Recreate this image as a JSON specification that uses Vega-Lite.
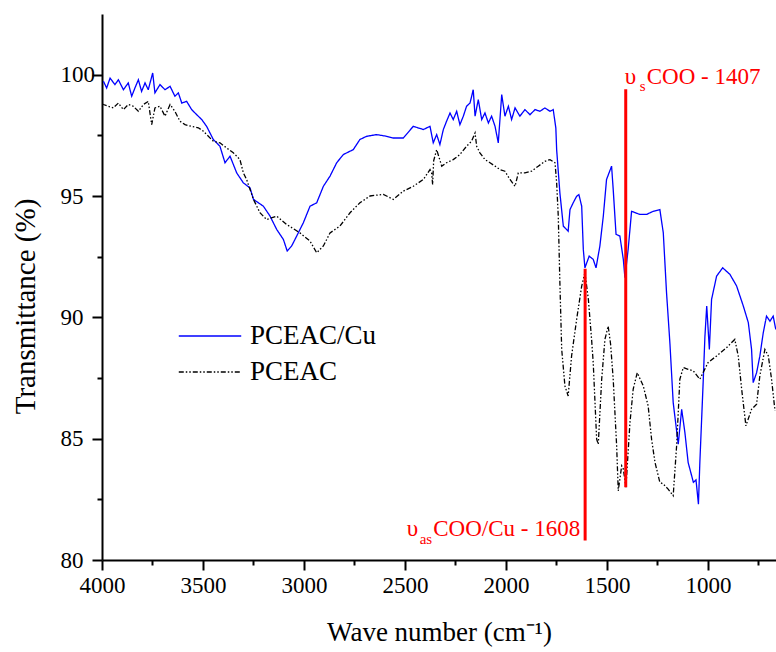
{
  "$schema": "https://vega.github.io/schema/vega-lite/v6.json",
  "width": 674,
  "height": 546,
  "autosize": {"type": "none"},
  "padding": {"left": 102, "top": 14, "right": 0, "bottom": 92},
  "background": "white",
  "config": {"view": {"stroke": null}, "font": "Times New Roman, Liberation Serif, serif"},
  "datasets": {
    "spectra": [
      {"wn": 3993, "t": 99.73, "sample": "PCEAC/Cu"},
      {"wn": 3977, "t": 99.45, "sample": "PCEAC/Cu"},
      {"wn": 3960, "t": 99.86, "sample": "PCEAC/Cu"},
      {"wn": 3936, "t": 99.59, "sample": "PCEAC/Cu"},
      {"wn": 3919, "t": 99.79, "sample": "PCEAC/Cu"},
      {"wn": 3894, "t": 99.38, "sample": "PCEAC/Cu"},
      {"wn": 3870, "t": 99.66, "sample": "PCEAC/Cu"},
      {"wn": 3853, "t": 99.11, "sample": "PCEAC/Cu"},
      {"wn": 3837, "t": 99.45, "sample": "PCEAC/Cu"},
      {"wn": 3820, "t": 99.79, "sample": "PCEAC/Cu"},
      {"wn": 3804, "t": 99.31, "sample": "PCEAC/Cu"},
      {"wn": 3787, "t": 99.66, "sample": "PCEAC/Cu"},
      {"wn": 3771, "t": 99.38, "sample": "PCEAC/Cu"},
      {"wn": 3749, "t": 100.07, "sample": "PCEAC/Cu"},
      {"wn": 3738, "t": 99.25, "sample": "PCEAC/Cu"},
      {"wn": 3713, "t": 99.59, "sample": "PCEAC/Cu"},
      {"wn": 3688, "t": 99.38, "sample": "PCEAC/Cu"},
      {"wn": 3663, "t": 99.52, "sample": "PCEAC/Cu"},
      {"wn": 3639, "t": 99.11, "sample": "PCEAC/Cu"},
      {"wn": 3622, "t": 99.25, "sample": "PCEAC/Cu"},
      {"wn": 3605, "t": 98.83, "sample": "PCEAC/Cu"},
      {"wn": 3581, "t": 98.90, "sample": "PCEAC/Cu"},
      {"wn": 3556, "t": 98.56, "sample": "PCEAC/Cu"},
      {"wn": 3531, "t": 98.35, "sample": "PCEAC/Cu"},
      {"wn": 3506, "t": 98.15, "sample": "PCEAC/Cu"},
      {"wn": 3482, "t": 97.87, "sample": "PCEAC/Cu"},
      {"wn": 3449, "t": 97.33, "sample": "PCEAC/Cu"},
      {"wn": 3416, "t": 97.05, "sample": "PCEAC/Cu"},
      {"wn": 3391, "t": 96.37, "sample": "PCEAC/Cu"},
      {"wn": 3366, "t": 96.64, "sample": "PCEAC/Cu"},
      {"wn": 3333, "t": 95.95, "sample": "PCEAC/Cu"},
      {"wn": 3300, "t": 95.54, "sample": "PCEAC/Cu"},
      {"wn": 3267, "t": 95.33, "sample": "PCEAC/Cu"},
      {"wn": 3250, "t": 94.86, "sample": "PCEAC/Cu"},
      {"wn": 3201, "t": 94.58, "sample": "PCEAC/Cu"},
      {"wn": 3168, "t": 94.17, "sample": "PCEAC/Cu"},
      {"wn": 3135, "t": 93.62, "sample": "PCEAC/Cu"},
      {"wn": 3102, "t": 93.21, "sample": "PCEAC/Cu"},
      {"wn": 3083, "t": 92.73, "sample": "PCEAC/Cu"},
      {"wn": 3061, "t": 92.94, "sample": "PCEAC/Cu"},
      {"wn": 3036, "t": 93.35, "sample": "PCEAC/Cu"},
      {"wn": 3003, "t": 93.90, "sample": "PCEAC/Cu"},
      {"wn": 2970, "t": 94.58, "sample": "PCEAC/Cu"},
      {"wn": 2937, "t": 94.72, "sample": "PCEAC/Cu"},
      {"wn": 2904, "t": 95.40, "sample": "PCEAC/Cu"},
      {"wn": 2871, "t": 95.82, "sample": "PCEAC/Cu"},
      {"wn": 2838, "t": 96.37, "sample": "PCEAC/Cu"},
      {"wn": 2805, "t": 96.71, "sample": "PCEAC/Cu"},
      {"wn": 2756, "t": 96.91, "sample": "PCEAC/Cu"},
      {"wn": 2723, "t": 97.33, "sample": "PCEAC/Cu"},
      {"wn": 2690, "t": 97.46, "sample": "PCEAC/Cu"},
      {"wn": 2640, "t": 97.53, "sample": "PCEAC/Cu"},
      {"wn": 2591, "t": 97.46, "sample": "PCEAC/Cu"},
      {"wn": 2558, "t": 97.39, "sample": "PCEAC/Cu"},
      {"wn": 2508, "t": 97.39, "sample": "PCEAC/Cu"},
      {"wn": 2459, "t": 97.87, "sample": "PCEAC/Cu"},
      {"wn": 2409, "t": 97.74, "sample": "PCEAC/Cu"},
      {"wn": 2376, "t": 97.87, "sample": "PCEAC/Cu"},
      {"wn": 2360, "t": 97.19, "sample": "PCEAC/Cu"},
      {"wn": 2343, "t": 97.53, "sample": "PCEAC/Cu"},
      {"wn": 2327, "t": 97.12, "sample": "PCEAC/Cu"},
      {"wn": 2310, "t": 97.74, "sample": "PCEAC/Cu"},
      {"wn": 2294, "t": 98.08, "sample": "PCEAC/Cu"},
      {"wn": 2277, "t": 98.42, "sample": "PCEAC/Cu"},
      {"wn": 2261, "t": 98.15, "sample": "PCEAC/Cu"},
      {"wn": 2244, "t": 98.49, "sample": "PCEAC/Cu"},
      {"wn": 2228, "t": 97.94, "sample": "PCEAC/Cu"},
      {"wn": 2211, "t": 98.29, "sample": "PCEAC/Cu"},
      {"wn": 2195, "t": 98.70, "sample": "PCEAC/Cu"},
      {"wn": 2178, "t": 98.83, "sample": "PCEAC/Cu"},
      {"wn": 2162, "t": 99.38, "sample": "PCEAC/Cu"},
      {"wn": 2153, "t": 98.29, "sample": "PCEAC/Cu"},
      {"wn": 2137, "t": 98.97, "sample": "PCEAC/Cu"},
      {"wn": 2120, "t": 98.15, "sample": "PCEAC/Cu"},
      {"wn": 2104, "t": 98.42, "sample": "PCEAC/Cu"},
      {"wn": 2087, "t": 98.01, "sample": "PCEAC/Cu"},
      {"wn": 2071, "t": 98.29, "sample": "PCEAC/Cu"},
      {"wn": 2054, "t": 97.87, "sample": "PCEAC/Cu"},
      {"wn": 2038, "t": 97.19, "sample": "PCEAC/Cu"},
      {"wn": 2021, "t": 99.18, "sample": "PCEAC/Cu"},
      {"wn": 2005, "t": 98.29, "sample": "PCEAC/Cu"},
      {"wn": 1988, "t": 98.70, "sample": "PCEAC/Cu"},
      {"wn": 1972, "t": 98.15, "sample": "PCEAC/Cu"},
      {"wn": 1955, "t": 98.63, "sample": "PCEAC/Cu"},
      {"wn": 1931, "t": 98.29, "sample": "PCEAC/Cu"},
      {"wn": 1906, "t": 98.56, "sample": "PCEAC/Cu"},
      {"wn": 1881, "t": 98.35, "sample": "PCEAC/Cu"},
      {"wn": 1856, "t": 98.56, "sample": "PCEAC/Cu"},
      {"wn": 1832, "t": 98.49, "sample": "PCEAC/Cu"},
      {"wn": 1807, "t": 98.63, "sample": "PCEAC/Cu"},
      {"wn": 1782, "t": 98.49, "sample": "PCEAC/Cu"},
      {"wn": 1766, "t": 98.56, "sample": "PCEAC/Cu"},
      {"wn": 1753, "t": 97.80, "sample": "PCEAC/Cu"},
      {"wn": 1749, "t": 96.91, "sample": "PCEAC/Cu"},
      {"wn": 1733, "t": 95.13, "sample": "PCEAC/Cu"},
      {"wn": 1716, "t": 93.76, "sample": "PCEAC/Cu"},
      {"wn": 1700, "t": 93.62, "sample": "PCEAC/Cu"},
      {"wn": 1692, "t": 93.55, "sample": "PCEAC/Cu"},
      {"wn": 1683, "t": 94.44, "sample": "PCEAC/Cu"},
      {"wn": 1667, "t": 94.72, "sample": "PCEAC/Cu"},
      {"wn": 1650, "t": 94.99, "sample": "PCEAC/Cu"},
      {"wn": 1639, "t": 95.06, "sample": "PCEAC/Cu"},
      {"wn": 1625, "t": 94.58, "sample": "PCEAC/Cu"},
      {"wn": 1617, "t": 92.80, "sample": "PCEAC/Cu"},
      {"wn": 1609, "t": 92.04, "sample": "PCEAC/Cu"},
      {"wn": 1588, "t": 92.52, "sample": "PCEAC/Cu"},
      {"wn": 1568, "t": 92.39, "sample": "PCEAC/Cu"},
      {"wn": 1554, "t": 92.04, "sample": "PCEAC/Cu"},
      {"wn": 1535, "t": 92.94, "sample": "PCEAC/Cu"},
      {"wn": 1518, "t": 94.17, "sample": "PCEAC/Cu"},
      {"wn": 1502, "t": 95.68, "sample": "PCEAC/Cu"},
      {"wn": 1477, "t": 96.23, "sample": "PCEAC/Cu"},
      {"wn": 1469, "t": 95.27, "sample": "PCEAC/Cu"},
      {"wn": 1455, "t": 93.42, "sample": "PCEAC/Cu"},
      {"wn": 1436, "t": 93.35, "sample": "PCEAC/Cu"},
      {"wn": 1419, "t": 92.39, "sample": "PCEAC/Cu"},
      {"wn": 1411, "t": 91.63, "sample": "PCEAC/Cu"},
      {"wn": 1395, "t": 92.80, "sample": "PCEAC/Cu"},
      {"wn": 1378, "t": 94.37, "sample": "PCEAC/Cu"},
      {"wn": 1337, "t": 94.24, "sample": "PCEAC/Cu"},
      {"wn": 1304, "t": 94.24, "sample": "PCEAC/Cu"},
      {"wn": 1271, "t": 94.37, "sample": "PCEAC/Cu"},
      {"wn": 1238, "t": 94.44, "sample": "PCEAC/Cu"},
      {"wn": 1221, "t": 93.48, "sample": "PCEAC/Cu"},
      {"wn": 1205, "t": 91.02, "sample": "PCEAC/Cu"},
      {"wn": 1188, "t": 88.90, "sample": "PCEAC/Cu"},
      {"wn": 1172, "t": 86.49, "sample": "PCEAC/Cu"},
      {"wn": 1147, "t": 84.77, "sample": "PCEAC/Cu"},
      {"wn": 1130, "t": 86.21, "sample": "PCEAC/Cu"},
      {"wn": 1114, "t": 85.25, "sample": "PCEAC/Cu"},
      {"wn": 1098, "t": 84.02, "sample": "PCEAC/Cu"},
      {"wn": 1072, "t": 83.20, "sample": "PCEAC/Cu"},
      {"wn": 1059, "t": 83.30, "sample": "PCEAC/Cu"},
      {"wn": 1047, "t": 82.30, "sample": "PCEAC/Cu"},
      {"wn": 1040, "t": 84.02, "sample": "PCEAC/Cu"},
      {"wn": 1023, "t": 87.45, "sample": "PCEAC/Cu"},
      {"wn": 1015, "t": 89.20, "sample": "PCEAC/Cu"},
      {"wn": 1006, "t": 90.47, "sample": "PCEAC/Cu"},
      {"wn": 993, "t": 88.68, "sample": "PCEAC/Cu"},
      {"wn": 982, "t": 90.74, "sample": "PCEAC/Cu"},
      {"wn": 957, "t": 91.70, "sample": "PCEAC/Cu"},
      {"wn": 927, "t": 92.04, "sample": "PCEAC/Cu"},
      {"wn": 891, "t": 91.77, "sample": "PCEAC/Cu"},
      {"wn": 858, "t": 91.29, "sample": "PCEAC/Cu"},
      {"wn": 825, "t": 90.47, "sample": "PCEAC/Cu"},
      {"wn": 800, "t": 89.78, "sample": "PCEAC/Cu"},
      {"wn": 784, "t": 88.68, "sample": "PCEAC/Cu"},
      {"wn": 776, "t": 87.31, "sample": "PCEAC/Cu"},
      {"wn": 759, "t": 87.72, "sample": "PCEAC/Cu"},
      {"wn": 743, "t": 88.40, "sample": "PCEAC/Cu"},
      {"wn": 726, "t": 89.37, "sample": "PCEAC/Cu"},
      {"wn": 710, "t": 90.05, "sample": "PCEAC/Cu"},
      {"wn": 693, "t": 89.84, "sample": "PCEAC/Cu"},
      {"wn": 677, "t": 90.05, "sample": "PCEAC/Cu"},
      {"wn": 664, "t": 89.50, "sample": "PCEAC/Cu"},
      {"wn": 4000, "t": 98.80, "sample": "PCEAC"},
      {"wn": 3993, "t": 98.77, "sample": "PCEAC"},
      {"wn": 3969, "t": 98.70, "sample": "PCEAC"},
      {"wn": 3944, "t": 98.63, "sample": "PCEAC"},
      {"wn": 3919, "t": 98.83, "sample": "PCEAC"},
      {"wn": 3894, "t": 98.56, "sample": "PCEAC"},
      {"wn": 3870, "t": 98.77, "sample": "PCEAC"},
      {"wn": 3845, "t": 98.70, "sample": "PCEAC"},
      {"wn": 3820, "t": 98.49, "sample": "PCEAC"},
      {"wn": 3795, "t": 98.77, "sample": "PCEAC"},
      {"wn": 3771, "t": 98.90, "sample": "PCEAC"},
      {"wn": 3754, "t": 97.94, "sample": "PCEAC"},
      {"wn": 3738, "t": 98.63, "sample": "PCEAC"},
      {"wn": 3713, "t": 98.70, "sample": "PCEAC"},
      {"wn": 3688, "t": 98.29, "sample": "PCEAC"},
      {"wn": 3663, "t": 98.77, "sample": "PCEAC"},
      {"wn": 3639, "t": 98.49, "sample": "PCEAC"},
      {"wn": 3614, "t": 98.08, "sample": "PCEAC"},
      {"wn": 3589, "t": 97.94, "sample": "PCEAC"},
      {"wn": 3556, "t": 97.87, "sample": "PCEAC"},
      {"wn": 3523, "t": 97.81, "sample": "PCEAC"},
      {"wn": 3498, "t": 97.67, "sample": "PCEAC"},
      {"wn": 3482, "t": 97.53, "sample": "PCEAC"},
      {"wn": 3449, "t": 97.26, "sample": "PCEAC"},
      {"wn": 3416, "t": 97.19, "sample": "PCEAC"},
      {"wn": 3383, "t": 96.98, "sample": "PCEAC"},
      {"wn": 3350, "t": 96.78, "sample": "PCEAC"},
      {"wn": 3317, "t": 96.50, "sample": "PCEAC"},
      {"wn": 3300, "t": 95.95, "sample": "PCEAC"},
      {"wn": 3284, "t": 95.68, "sample": "PCEAC"},
      {"wn": 3267, "t": 95.27, "sample": "PCEAC"},
      {"wn": 3250, "t": 94.86, "sample": "PCEAC"},
      {"wn": 3218, "t": 94.31, "sample": "PCEAC"},
      {"wn": 3185, "t": 94.03, "sample": "PCEAC"},
      {"wn": 3135, "t": 94.17, "sample": "PCEAC"},
      {"wn": 3086, "t": 93.83, "sample": "PCEAC"},
      {"wn": 3020, "t": 93.48, "sample": "PCEAC"},
      {"wn": 2970, "t": 93.14, "sample": "PCEAC"},
      {"wn": 2937, "t": 92.66, "sample": "PCEAC"},
      {"wn": 2904, "t": 92.94, "sample": "PCEAC"},
      {"wn": 2871, "t": 93.48, "sample": "PCEAC"},
      {"wn": 2822, "t": 93.76, "sample": "PCEAC"},
      {"wn": 2772, "t": 94.31, "sample": "PCEAC"},
      {"wn": 2723, "t": 94.72, "sample": "PCEAC"},
      {"wn": 2673, "t": 95.00, "sample": "PCEAC"},
      {"wn": 2607, "t": 95.07, "sample": "PCEAC"},
      {"wn": 2558, "t": 94.86, "sample": "PCEAC"},
      {"wn": 2508, "t": 95.20, "sample": "PCEAC"},
      {"wn": 2459, "t": 95.40, "sample": "PCEAC"},
      {"wn": 2409, "t": 95.68, "sample": "PCEAC"},
      {"wn": 2376, "t": 96.09, "sample": "PCEAC"},
      {"wn": 2368, "t": 95.95, "sample": "PCEAC"},
      {"wn": 2363, "t": 95.47, "sample": "PCEAC"},
      {"wn": 2358, "t": 96.45, "sample": "PCEAC"},
      {"wn": 2343, "t": 96.91, "sample": "PCEAC"},
      {"wn": 2318, "t": 96.23, "sample": "PCEAC"},
      {"wn": 2294, "t": 96.37, "sample": "PCEAC"},
      {"wn": 2261, "t": 96.50, "sample": "PCEAC"},
      {"wn": 2228, "t": 96.71, "sample": "PCEAC"},
      {"wn": 2195, "t": 97.05, "sample": "PCEAC"},
      {"wn": 2170, "t": 97.26, "sample": "PCEAC"},
      {"wn": 2153, "t": 97.60, "sample": "PCEAC"},
      {"wn": 2145, "t": 97.05, "sample": "PCEAC"},
      {"wn": 2129, "t": 96.78, "sample": "PCEAC"},
      {"wn": 2104, "t": 96.50, "sample": "PCEAC"},
      {"wn": 2079, "t": 96.37, "sample": "PCEAC"},
      {"wn": 2054, "t": 96.23, "sample": "PCEAC"},
      {"wn": 2030, "t": 96.09, "sample": "PCEAC"},
      {"wn": 2005, "t": 96.02, "sample": "PCEAC"},
      {"wn": 1980, "t": 95.68, "sample": "PCEAC"},
      {"wn": 1955, "t": 95.40, "sample": "PCEAC"},
      {"wn": 1939, "t": 95.95, "sample": "PCEAC"},
      {"wn": 1906, "t": 95.95, "sample": "PCEAC"},
      {"wn": 1873, "t": 96.02, "sample": "PCEAC"},
      {"wn": 1840, "t": 96.23, "sample": "PCEAC"},
      {"wn": 1807, "t": 96.43, "sample": "PCEAC"},
      {"wn": 1782, "t": 96.50, "sample": "PCEAC"},
      {"wn": 1757, "t": 96.37, "sample": "PCEAC"},
      {"wn": 1749, "t": 95.54, "sample": "PCEAC"},
      {"wn": 1741, "t": 94.17, "sample": "PCEAC"},
      {"wn": 1733, "t": 91.43, "sample": "PCEAC"},
      {"wn": 1724, "t": 88.68, "sample": "PCEAC"},
      {"wn": 1708, "t": 87.17, "sample": "PCEAC"},
      {"wn": 1692, "t": 86.76, "sample": "PCEAC"},
      {"wn": 1675, "t": 88.41, "sample": "PCEAC"},
      {"wn": 1650, "t": 89.92, "sample": "PCEAC"},
      {"wn": 1625, "t": 91.29, "sample": "PCEAC"},
      {"wn": 1609, "t": 91.84, "sample": "PCEAC"},
      {"wn": 1592, "t": 90.74, "sample": "PCEAC"},
      {"wn": 1576, "t": 89.09, "sample": "PCEAC"},
      {"wn": 1568, "t": 88.14, "sample": "PCEAC"},
      {"wn": 1551, "t": 84.98, "sample": "PCEAC"},
      {"wn": 1543, "t": 84.77, "sample": "PCEAC"},
      {"wn": 1526, "t": 87.45, "sample": "PCEAC"},
      {"wn": 1510, "t": 89.09, "sample": "PCEAC"},
      {"wn": 1494, "t": 89.64, "sample": "PCEAC"},
      {"wn": 1482, "t": 88.90, "sample": "PCEAC"},
      {"wn": 1469, "t": 87.45, "sample": "PCEAC"},
      {"wn": 1452, "t": 84.71, "sample": "PCEAC"},
      {"wn": 1444, "t": 82.85, "sample": "PCEAC"},
      {"wn": 1427, "t": 83.88, "sample": "PCEAC"},
      {"wn": 1419, "t": 83.75, "sample": "PCEAC"},
      {"wn": 1406, "t": 83.00, "sample": "PCEAC"},
      {"wn": 1386, "t": 85.67, "sample": "PCEAC"},
      {"wn": 1370, "t": 87.04, "sample": "PCEAC"},
      {"wn": 1350, "t": 87.72, "sample": "PCEAC"},
      {"wn": 1320, "t": 87.17, "sample": "PCEAC"},
      {"wn": 1296, "t": 86.35, "sample": "PCEAC"},
      {"wn": 1279, "t": 84.98, "sample": "PCEAC"},
      {"wn": 1262, "t": 84.02, "sample": "PCEAC"},
      {"wn": 1238, "t": 83.20, "sample": "PCEAC"},
      {"wn": 1221, "t": 83.13, "sample": "PCEAC"},
      {"wn": 1197, "t": 82.92, "sample": "PCEAC"},
      {"wn": 1172, "t": 82.65, "sample": "PCEAC"},
      {"wn": 1155, "t": 84.71, "sample": "PCEAC"},
      {"wn": 1139, "t": 87.45, "sample": "PCEAC"},
      {"wn": 1122, "t": 87.93, "sample": "PCEAC"},
      {"wn": 1098, "t": 87.86, "sample": "PCEAC"},
      {"wn": 1072, "t": 87.79, "sample": "PCEAC"},
      {"wn": 1040, "t": 87.45, "sample": "PCEAC"},
      {"wn": 999, "t": 88.14, "sample": "PCEAC"},
      {"wn": 957, "t": 88.41, "sample": "PCEAC"},
      {"wn": 908, "t": 88.75, "sample": "PCEAC"},
      {"wn": 867, "t": 89.09, "sample": "PCEAC"},
      {"wn": 850, "t": 88.41, "sample": "PCEAC"},
      {"wn": 833, "t": 87.04, "sample": "PCEAC"},
      {"wn": 812, "t": 85.53, "sample": "PCEAC"},
      {"wn": 784, "t": 86.21, "sample": "PCEAC"},
      {"wn": 759, "t": 86.42, "sample": "PCEAC"},
      {"wn": 743, "t": 87.59, "sample": "PCEAC"},
      {"wn": 718, "t": 88.68, "sample": "PCEAC"},
      {"wn": 701, "t": 88.41, "sample": "PCEAC"},
      {"wn": 685, "t": 87.45, "sample": "PCEAC"},
      {"wn": 668, "t": 86.15, "sample": "PCEAC"}
    ],
    "bands": [
      {"wn": 1608, "lo": 80.8, "hi": 92.0, "id": "as", "pre": "υ", "sub": "as", "main": "COO/Cu - 1608", "ty": 81.0},
      {"wn": 1407, "lo": 83.0, "hi": 99.4, "id": "s", "pre": "υ", "sub": "s", "main": "COO - 1407", "ty": 99.6}
    ]
  },
  "layer": [
    {
      "data": {"name": "spectra"},
      "mark": {"type": "line", "strokeWidth": 1.3, "clip": true},
      "encoding": {
        "x": {
          "field": "wn", "type": "quantitative",
          "scale": {"domain": [663, 4000], "reverse": true, "nice": false, "zero": false},
          "axis": {
            "title": "Wave number (cm⁻¹)",
            "values": [4000, 3750, 3500, 3250, 3000, 2750, 2500, 2250, 2000, 1750, 1500, 1250, 1000, 750],
            "format": "d",
            "labelExpr": "datum.value % 500 === 0 ? datum.label : ''",
            "tickSize": {"condition": {"test": "datum.value % 500 === 0", "value": 10}, "value": 5},
            "tickWidth": 2, "tickColor": "black",
            "domainWidth": 2, "domainColor": "black",
            "grid": false,
            "labelFont": "Times New Roman, Liberation Serif, serif", "labelFontSize": 23, "labelColor": "black", "labelPadding": 4,
            "labelFlush": false, "labelOverlap": false,
            "titleFont": "Times New Roman, Liberation Serif, serif", "titleFontSize": 27, "titleFontWeight": "normal", "titleColor": "black",
            "titleX": 337, "titleY": 72, "titleBaseline": "middle", "titleAlign": "center"
          }
        },
        "y": {
          "field": "t", "type": "quantitative",
          "scale": {"domain": [80, 102.5], "nice": false, "zero": false},
          "axis": {
            "title": "Transmittance (%)",
            "values": [80, 82.5, 85, 87.5, 90, 92.5, 95, 97.5, 100],
            "format": "d",
            "labelExpr": "datum.value % 5 === 0 ? datum.label : ''",
            "tickSize": {"condition": {"test": "datum.value % 5 === 0", "value": 10}, "value": 5},
            "tickWidth": 2, "tickColor": "black",
            "domainWidth": 2, "domainColor": "black",
            "grid": false,
            "labelFont": "Times New Roman, Liberation Serif, serif", "labelFontSize": 23, "labelColor": "black",
            "labelAlign": "left", "labelPadding": 32, "labelFlush": false, "labelOverlap": false,
            "titleFont": "Times New Roman, Liberation Serif, serif", "titleFontSize": 29, "titleFontWeight": "normal", "titleColor": "black",
            "titleX": -77, "titleY": 292, "titleAngle": -90, "titleBaseline": "middle", "titleAlign": "center"
          }
        },
        "color": {
          "field": "sample", "type": "nominal",
          "scale": {"domain": ["PCEAC/Cu", "PCEAC"], "range": ["#0000ff", "#000000"]},
          "legend": {
            "title": null, "orient": "none", "legendX": 76, "legendY": 304,
            "symbolType": "stroke", "symbolSize": 3900, "symbolStrokeWidth": 1.5,
            "labelFont": "Times New Roman, Liberation Serif, serif", "labelFontSize": 27, "labelColor": "black",
            "labelOffset": 8, "rowPadding": 0, "padding": 0, "clipHeight": 36
          }
        },
        "strokeDash": {
          "field": "sample", "type": "nominal",
          "scale": {"domain": ["PCEAC/Cu", "PCEAC"], "range": [[1, 0], [5, 2, 1.5, 2, 1.5, 2]]},
          "legend": {
            "title": null, "orient": "none", "legendX": 76, "legendY": 304,
            "symbolType": "stroke", "symbolSize": 3900, "symbolStrokeWidth": 1.5,
            "labelFont": "Times New Roman, Liberation Serif, serif", "labelFontSize": 27, "labelColor": "black",
            "labelOffset": 8, "rowPadding": 0, "padding": 0, "clipHeight": 36
          }
        }
      }
    },
    {
      "data": {"name": "bands"},
      "mark": {"type": "rule", "color": "#ff0000", "strokeWidth": 3},
      "encoding": {
        "x": {"field": "wn", "type": "quantitative"},
        "y": {"field": "lo", "type": "quantitative"},
        "y2": {"field": "hi"}
      }
    },
    {
      "data": {"name": "bands"},
      "transform": [{"filter": "datum.id === 's'"}],
      "mark": {"type": "text", "color": "#ff0000", "font": "Times New Roman, Liberation Serif, serif", "fontSize": 23, "align": "left", "baseline": "alphabetic", "dx": -1},
      "encoding": {"x": {"field": "wn", "type": "quantitative"}, "y": {"field": "ty", "type": "quantitative"}, "text": {"field": "pre"}}
    },
    {
      "data": {"name": "bands"},
      "transform": [{"filter": "datum.id === 's'"}],
      "mark": {"type": "text", "color": "#ff0000", "font": "Times New Roman, Liberation Serif, serif", "fontSize": 15, "align": "left", "baseline": "alphabetic", "dx": 14, "dy": 7},
      "encoding": {"x": {"field": "wn", "type": "quantitative"}, "y": {"field": "ty", "type": "quantitative"}, "text": {"field": "sub"}}
    },
    {
      "data": {"name": "bands"},
      "transform": [{"filter": "datum.id === 's'"}],
      "mark": {"type": "text", "color": "#ff0000", "font": "Times New Roman, Liberation Serif, serif", "fontSize": 23, "align": "left", "baseline": "alphabetic", "dx": 21},
      "encoding": {"x": {"field": "wn", "type": "quantitative"}, "y": {"field": "ty", "type": "quantitative"}, "text": {"field": "main"}}
    },
    {
      "data": {"name": "bands"},
      "transform": [{"filter": "datum.id === 'as'"}],
      "mark": {"type": "text", "color": "#ff0000", "font": "Times New Roman, Liberation Serif, serif", "fontSize": 23, "align": "right", "baseline": "alphabetic", "dx": -5},
      "encoding": {"x": {"field": "wn", "type": "quantitative"}, "y": {"field": "ty", "type": "quantitative"}, "text": {"field": "main"}}
    },
    {
      "data": {"name": "bands"},
      "transform": [{"filter": "datum.id === 'as'"}],
      "mark": {"type": "text", "color": "#ff0000", "font": "Times New Roman, Liberation Serif, serif", "fontSize": 15, "align": "right", "baseline": "alphabetic", "dx": -153, "dy": 8},
      "encoding": {"x": {"field": "wn", "type": "quantitative"}, "y": {"field": "ty", "type": "quantitative"}, "text": {"field": "sub"}}
    },
    {
      "data": {"name": "bands"},
      "transform": [{"filter": "datum.id === 'as'"}],
      "mark": {"type": "text", "color": "#ff0000", "font": "Times New Roman, Liberation Serif, serif", "fontSize": 23, "align": "right", "baseline": "alphabetic", "dx": -167},
      "encoding": {"x": {"field": "wn", "type": "quantitative"}, "y": {"field": "ty", "type": "quantitative"}, "text": {"field": "pre"}}
    }
  ]
}
